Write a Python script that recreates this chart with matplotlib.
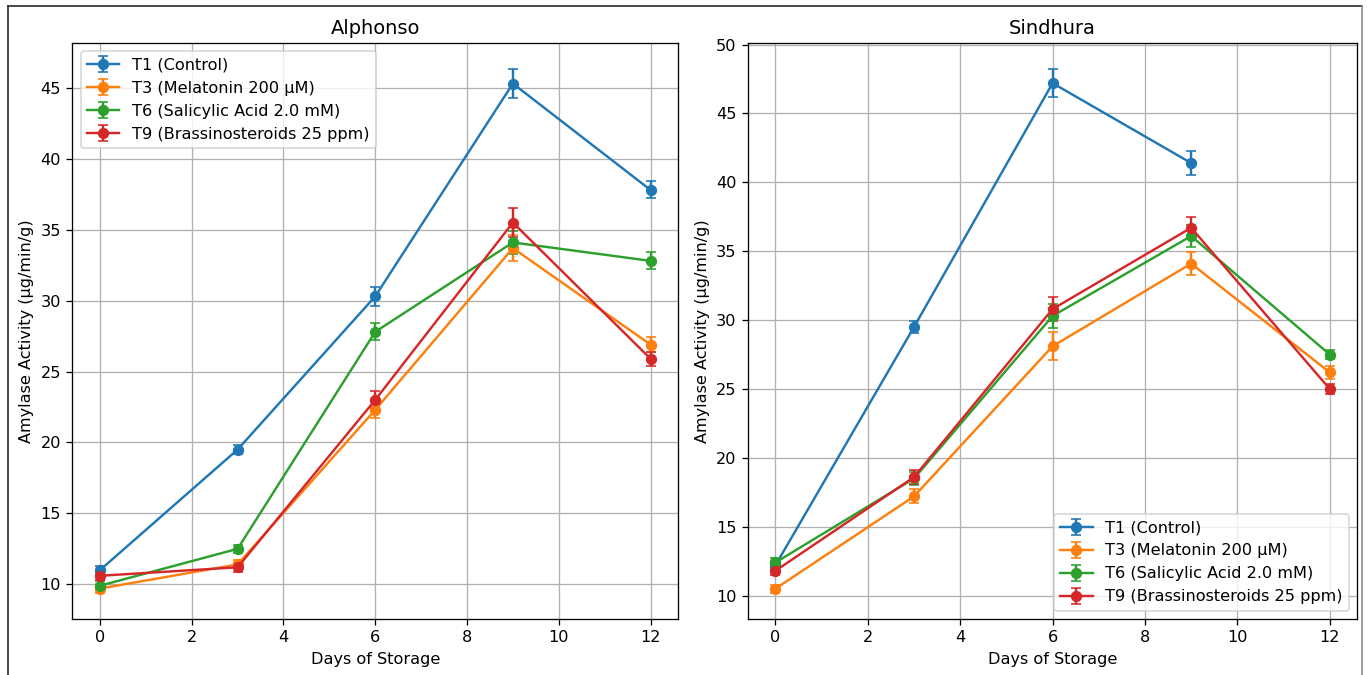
import numpy as np
import matplotlib
matplotlib.use("Agg")
import matplotlib.pyplot as plt
from matplotlib.lines import Line2D

days = [0, 3, 6, 9, 12]
labels = ["T1 (Control)", "T3 (Melatonin 200 µM)", "T6 (Salicylic Acid 2.0 mM)",
          "T9 (Brassinosteroids 25 ppm)"]

# Alphonso
alph_T1 = [11.0, 19.5, 30.3, 45.3, 37.8]
alph_T3 = [9.7, 11.4, 22.3, 33.7, 26.9]
alph_T6 = [9.9, 12.5, 27.8, 34.1, 32.8]
alph_T9 = [10.6, 11.2, 23.0, 35.5, 25.9]
alph_T1_err = [0.3, 0.3, 0.65, 1.0, 0.6]
alph_T3_err = [0.3, 0.3, 0.6, 0.9, 0.5]
alph_T6_err = [0.3, 0.3, 0.6, 0.8, 0.6]
alph_T9_err = [0.3, 0.3, 0.6, 1.0, 0.5]

# Sindhura
sind_T1 = [12.2, 29.5, 47.2, 41.4, np.nan]
sind_T3 = [10.5, 17.2, 28.1, 34.1, 26.2]
sind_T6 = [12.4, 18.5, 30.3, 36.1, 27.5]
sind_T9 = [11.8, 18.6, 30.8, 36.7, 25.0]
sind_T1_err = [0.3, 0.45, 1.0, 0.85, np.nan]
sind_T3_err = [0.3, 0.5, 1.0, 0.85, 0.45]
sind_T6_err = [0.3, 0.5, 0.9, 0.8, 0.35]
sind_T9_err = [0.3, 0.5, 0.9, 0.8, 0.35]

colors = ["#1f77b4", "#ff7f0e", "#2ca02c", "#d62728"]

DPI = 116
fig = plt.figure(figsize=(1367 / DPI, 675 / DPI), dpi=DPI)
ax1 = fig.add_axes([0.053, 0.083, 0.443, 0.853])
ax2 = fig.add_axes([0.547, 0.083, 0.446, 0.853])

panels = [
    (ax1, "Alphonso", [alph_T1, alph_T3, alph_T6, alph_T9],
     [alph_T1_err, alph_T3_err, alph_T6_err, alph_T9_err], "upper left"),
    (ax2, "Sindhura", [sind_T1, sind_T3, sind_T6, sind_T9],
     [sind_T1_err, sind_T3_err, sind_T6_err, sind_T9_err], "lower right"),
]

for ax, title, series, errs, loc in panels:
    for vals, err, lab, c in zip(series, errs, labels, colors):
        ax.errorbar(days, vals, yerr=err, marker="o", capsize=3, label=lab, color=c)
    ax.set_title(title, fontsize=12)
    ax.set_xlabel("Days of Storage")
    ax.set_ylabel("Amylase Activity (µg/min/g)")
    ax.grid(True)
    ax.legend(loc=loc)

ax2.set_yticks([10, 15, 20, 25, 30, 35, 40, 45, 50])

# screenshot frame
fig.add_artist(Line2D([0.0055, 0.0055], [0.0, 0.991], transform=fig.transFigure, color="#222222", lw=1.0))
fig.add_artist(Line2D([0.0055, 0.9965], [0.991, 0.991], transform=fig.transFigure, color="#222222", lw=1.0))
fig.add_artist(Line2D([0.9965, 0.9965], [0.0, 0.991], transform=fig.transFigure, color="#888888", lw=1.0))

fig.savefig("out.png", dpi=DPI)
